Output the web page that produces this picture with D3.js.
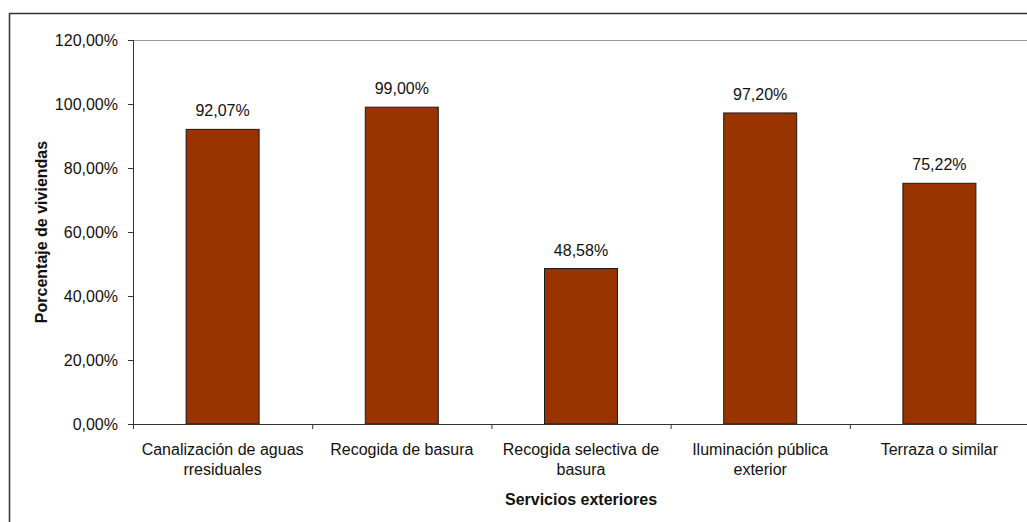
<!DOCTYPE html>
<html>
<head>
<meta charset="utf-8">
<script src="https://cdn.jsdelivr.net/npm/d3@7"></script>
<style>
  body { margin: 0; background: #fff; }
  svg { display: block; font-family: "Liberation Sans", Arial, sans-serif; }
</style>
</head>
<body>
<svg id="chart" width="1027" height="522"></svg>
<script>
// data
const categories = [
  ["Canalización de aguas", "rresiduales"],
  ["Recogida de basura"],
  ["Recogida selectiva de", "basura"],
  ["Iluminación pública", "exterior"],
  ["Terraza o similar"]
];
const values = [92.07, 99.00, 48.58, 97.20, 75.22];
const yTicks = [0, 20, 40, 60, 80, 100, 120];

const fmt = v => d3.format(".2f")(v).replace(".", ",") + "%";
const fs = 16;

const svg = d3.select("#chart");

// outer frame (runs off the right/bottom edge in the reference)
svg.append("rect")
  .attr("x", 9.5).attr("y", 13.5)
  .attr("width", 1030).attr("height", 520)
  .attr("fill", "none").attr("stroke", "#333").attr("stroke-width", 1.5);

const plotL = 133, plotR = 1029, plotT = 40, plotB = 424;

const x = d3.scaleBand().domain(d3.range(categories.length)).range([plotL, plotR]);
const y = d3.scaleLinear().domain([0, 120]).range([plotB, plotT]);
const barW = 73;

// top gridline
svg.append("line")
  .attr("x1", plotL).attr("x2", plotR)
  .attr("y1", y(120) + 0.5).attr("y2", y(120) + 0.5)
  .attr("stroke", "#999").attr("stroke-width", 1);

// bars
svg.selectAll(".bar")
  .data(values)
  .enter().append("rect")
  .attr("class", "bar")
  .attr("x", (d, i) => x(i) + x.bandwidth() / 2 - barW / 2)
  .attr("width", barW)
  .attr("y", d => y(d))
  .attr("height", d => y(0) - y(d))
  .attr("fill", "#993300")
  .attr("stroke", "#1a1a1a")
  .attr("stroke-width", 1);

// value labels
svg.selectAll(".lbl")
  .data(values)
  .enter().append("text")
  .attr("x", (d, i) => x(i) + x.bandwidth() / 2)
  .attr("y", d => y(d) - 13)
  .attr("text-anchor", "middle")
  .attr("font-size", fs)
  .attr("fill", "#111")
  .text(d => fmt(d));

// y axis
const yAxis = svg.append("g")
  .attr("transform", `translate(${plotL},0)`)
  .call(d3.axisLeft(y).tickValues(yTicks).tickSize(5).tickPadding(10).tickFormat(fmt));
yAxis.select(".domain").attr("stroke", "#333");
yAxis.selectAll(".tick line").attr("stroke", "#333");
yAxis.selectAll("text").attr("font-size", fs).attr("fill", "#111")
  .attr("font-family", "Liberation Sans, Arial, sans-serif");

// x axis
const xAxis = svg.append("g")
  .attr("transform", `translate(0,${plotB})`)
  .call(d3.axisBottom(x).tickSize(0).tickFormat(""));
xAxis.select(".domain").attr("stroke", "#333");
// ticks between categories
svg.selectAll(".xtick")
  .data(d3.range(categories.length + 1))
  .enter().append("line")
  .attr("x1", i => plotL + i * x.bandwidth() + 0.5)
  .attr("x2", i => plotL + i * x.bandwidth() + 0.5)
  .attr("y1", plotB).attr("y2", plotB + 5)
  .attr("stroke", "#333");

// category labels
const cat = svg.selectAll(".cat")
  .data(categories)
  .enter().append("text")
  .attr("text-anchor", "middle")
  .attr("font-size", fs)
  .attr("fill", "#111")
  .attr("x", (d, i) => x(i) + x.bandwidth() / 2)
  .attr("y", 455);
cat.selectAll("tspan")
  .data(d => d)
  .enter().append("tspan")
  .attr("x", function () { return d3.select(this.parentNode).attr("x"); })
  .attr("dy", (d, i) => i === 0 ? 0 : 20)
  .text(d => d);

// axis titles
svg.append("text")
  .attr("x", (plotL + plotR) / 2).attr("y", 505)
  .attr("text-anchor", "middle")
  .attr("font-size", fs).attr("font-weight", "bold").attr("fill", "#111")
  .text("Servicios exteriores");

svg.append("text")
  .attr("transform", `translate(47,${(plotT + plotB) / 2}) rotate(-90)`)
  .attr("text-anchor", "middle")
  .attr("font-size", fs).attr("font-weight", "bold").attr("fill", "#111")
  .text("Porcentaje de viviendas");
</script>
</body>
</html>
